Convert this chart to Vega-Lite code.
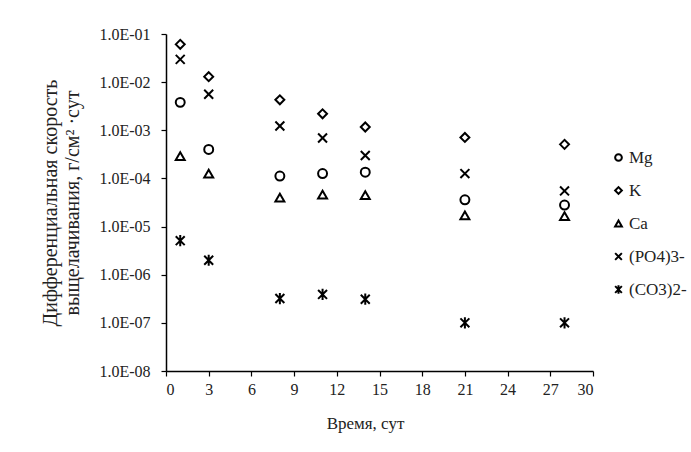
{
  "$schema": "https://vega.github.io/schema/vega-lite/v6.json",
  "autosize": "none",
  "width": 427,
  "height": 337,
  "padding": {"left": 166, "top": 34, "right": 98, "bottom": 81},
  "background": "white",
  "config": {
    "view": {"stroke": null},
    "font": "Liberation Serif",
    "axis": {
      "labelFont": "Liberation Serif",
      "titleFont": "Liberation Serif",
      "labelFontSize": 16,
      "titleFontSize": 17,
      "titleFontWeight": "normal",
      "labelColor": "#222",
      "titleColor": "#222",
      "domainColor": "black",
      "domainWidth": 1.5,
      "tickColor": "black",
      "tickWidth": 1.2,
      "tickSize": 5,
      "grid": false
    },
    "legend": {
      "labelFont": "Liberation Serif",
      "labelFontSize": 17,
      "labelColor": "#222"
    }
  },
  "data": {
    "values": [
      {"t": 1, "ion": "Mg", "v": 0.0038},
      {"t": 3, "ion": "Mg", "v": 0.0004},
      {"t": 8, "ion": "Mg", "v": 0.000112},
      {"t": 11, "ion": "Mg", "v": 0.000126},
      {"t": 14, "ion": "Mg", "v": 0.000135},
      {"t": 21, "ion": "Mg", "v": 0.000036},
      {"t": 28, "ion": "Mg", "v": 0.000028},
      {"t": 1, "ion": "K", "v": 0.061},
      {"t": 3, "ion": "K", "v": 0.013},
      {"t": 8, "ion": "K", "v": 0.0043},
      {"t": 11, "ion": "K", "v": 0.0022},
      {"t": 14, "ion": "K", "v": 0.00117},
      {"t": 21, "ion": "K", "v": 0.00071},
      {"t": 28, "ion": "K", "v": 0.00051},
      {"t": 1, "ion": "Ca", "v": 0.00029},
      {"t": 3, "ion": "Ca", "v": 0.000126},
      {"t": 8, "ion": "Ca", "v": 0.00004},
      {"t": 11, "ion": "Ca", "v": 0.000046},
      {"t": 14, "ion": "Ca", "v": 0.000045},
      {"t": 21, "ion": "Ca", "v": 0.000017},
      {"t": 28, "ion": "Ca", "v": 0.0000165},
      {"t": 1, "ion": "(PO4)3-", "v": 0.0297},
      {"t": 3, "ion": "(PO4)3-", "v": 0.0056},
      {"t": 8, "ion": "(PO4)3-", "v": 0.00123},
      {"t": 11, "ion": "(PO4)3-", "v": 0.00069},
      {"t": 14, "ion": "(PO4)3-", "v": 0.0003},
      {"t": 21, "ion": "(PO4)3-", "v": 0.000126},
      {"t": 28, "ion": "(PO4)3-", "v": 0.000055},
      {"t": 1, "ion": "(CO3)2-", "v": 0.0000051},
      {"t": 3, "ion": "(CO3)2-", "v": 0.000002},
      {"t": 8, "ion": "(CO3)2-", "v": 0.00000032},
      {"t": 11, "ion": "(CO3)2-", "v": 0.00000039},
      {"t": 14, "ion": "(CO3)2-", "v": 0.00000031},
      {"t": 21, "ion": "(CO3)2-", "v": 0.0000001},
      {"t": 28, "ion": "(CO3)2-", "v": 0.0000001}
    ]
  },
  "mark": {"type": "point", "filled": false, "color": "black", "strokeWidth": 2, "size": 80, "opacity": 1},
  "encoding": {
    "x": {
      "field": "t",
      "type": "quantitative",
      "scale": {"domain": [0, 30], "nice": false, "zero": false},
      "axis": {
        "title": "Время, сут",
        "values": [0, 3, 6, 9, 12, 15, 18, 21, 24, 27, 30],
        "labelPadding": 5,
        "titlePadding": 18,
        "titleX": 199
      }
    },
    "y": {
      "field": "v",
      "type": "quantitative",
      "scale": {"type": "log", "domain": [1e-8, 0.1], "nice": false},
      "axis": {
        "title": ["Дифференциальная скорость", "выщелачивания, г/см² ·сут"],
        "titleFontSize": 20,
        "titleLineHeight": 22,
        "values": [1e-8, 1e-7, 1e-6, 1e-5, 1e-4, 1e-3, 1e-2, 1e-1],
        "labelExpr": "'1.0E-0' + format(-round(log(datum.value)/LN10), 'd')",
        "labelPadding": 11,
        "titlePadding": 16
      }
    },
    "shape": {
      "field": "ion",
      "type": "nominal",
      "scale": {
        "domain": ["Mg", "K", "Ca", "(PO4)3-", "(CO3)2-"],
        "range": ["circle", "diamond", "triangle-up", "M-1,-1L1,1M-1,1L1,-1", "M-1,-1L1,1M-1,1L1,-1M0,-1.25L0,1.25"]
      },
      "legend": {
        "title": null,
        "orient": "none",
        "legendX": 444,
        "legendY": 115,
        "padding": 0,
        "rowPadding": 15,
        "symbolSize": 45,
        "symbolStrokeWidth": 2,
        "symbolStrokeColor": "black",
        "symbolFillColor": "transparent",
        "labelOffset": 2
      }
    }
  }
}
